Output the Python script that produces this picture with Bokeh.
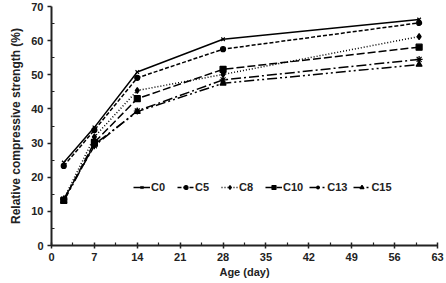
from bokeh.plotting import figure
from bokeh.models import FixedTicker, Range1d, Legend, LegendItem
from bokeh.embed import file_html
from bokeh.resources import INLINE

age = [2, 7, 14, 28, 60]
series_names = ["C0", "C5", "C8", "C10", "C13", "C15"]
c0 = [24.3, 34.6, 50.8, 60.4, 66.2]
c5 = [23.3, 33.8, 49.1, 57.5, 65.2]
c8 = [13.6, 31.8, 45.4, 50.1, 61.2]
c10 = [13.2, 30.2, 43.0, 51.6, 58.1]
c13 = [13.6, 29.2, 39.4, 48.5, 54.5]
c15 = [13.0, 29.6, 39.2, 47.5, 53.0]
series_values = [c0, c5, c8, c10, c13, c15]
x_ticks = [0, 7, 14, 21, 28, 35, 42, 49, 56, 63]
y_ticks = [0, 10, 20, 30, 40, 50, 60, 70]

FONT = "Liberation Sans"

p = figure(width=446, height=283, output_backend="svg", toolbar_location=None,
           x_range=Range1d(0, 63), y_range=Range1d(0, 70),
           min_border_left=51, min_border_right=9, min_border_top=6, min_border_bottom=38)
p.outline_line_color = None
p.xgrid.visible = False
p.ygrid.visible = False
p.background_fill_color = "white"
p.border_fill_color = "white"

p.xaxis.ticker = FixedTicker(ticks=x_ticks, minor_ticks=[t + 3.5 for t in x_ticks[:-1]])
p.yaxis.ticker = FixedTicker(ticks=y_ticks, minor_ticks=[t + 5 for t in y_ticks[:-1]])
for ax in (p.xaxis, p.yaxis):
    ax.axis_line_width = 2
    ax.axis_line_color = "#222222"
    ax.major_tick_line_width = 1.5
    ax.minor_tick_line_width = 1.2
    ax.major_tick_line_color = "#222222"
    ax.minor_tick_line_color = "#222222"
    ax.major_label_text_font = FONT
    ax.major_label_text_font_style = "bold"
    ax.major_label_text_font_size = "11px"
    ax.major_label_text_color = "#222222"
    ax.axis_label_text_font = FONT
    ax.axis_label_text_font_style = "bold"
    ax.axis_label_text_font_size = "11px"
    ax.axis_label_text_color = "#222222"
p.yaxis.axis_label_text_font_size = "12px"
p.xaxis.major_tick_in = 3
p.xaxis.major_tick_out = 3
p.xaxis.minor_tick_in = 3
p.xaxis.minor_tick_out = 0
p.yaxis.major_tick_in = 0
p.yaxis.major_tick_out = 4
p.yaxis.minor_tick_in = 3
p.yaxis.minor_tick_out = 0
p.xaxis.major_label_standoff = 4
p.yaxis.major_label_standoff = 4
p.xaxis.axis_label = "Age (day)"
p.yaxis.axis_label = "Relative compressive strength (%)"
p.xaxis.axis_label_standoff = 2
p.yaxis.axis_label_standoff = 5

dashes = ["solid", "4 2", "1 2", "8 3", "10 3 2 3", "10 3 2 3 2 3"]
markers = ["x", "circle", "diamond", "square", "asterisk", "triangle"]
sizes = [5, 5, 6, 6, 7, 6]

items = []
for name, vals, dash, mk, sz in zip(series_names, series_values, dashes, markers, sizes):
    r1 = p.line(age, vals, line_color="black", line_width=1.5, line_dash=dash)
    r2 = p.scatter(age, vals, marker=mk, size=sz, fill_color="black", line_color="black", line_width=1.2)
    items.append(LegendItem(label=name, renderers=[r1, r2]))

legend = Legend(items=items, orientation="horizontal", location=(82, 52),
                border_line_color=None, background_fill_alpha=0,
                glyph_width=17, glyph_height=10, label_standoff=1, spacing=6,
                padding=2, margin=0,
                label_text_font=FONT, label_text_font_style="bold",
                label_text_font_size="11px", label_text_color="#222222")
p.add_layout(legend, "center")

open("out.html", "w").write(file_html(p, INLINE))
